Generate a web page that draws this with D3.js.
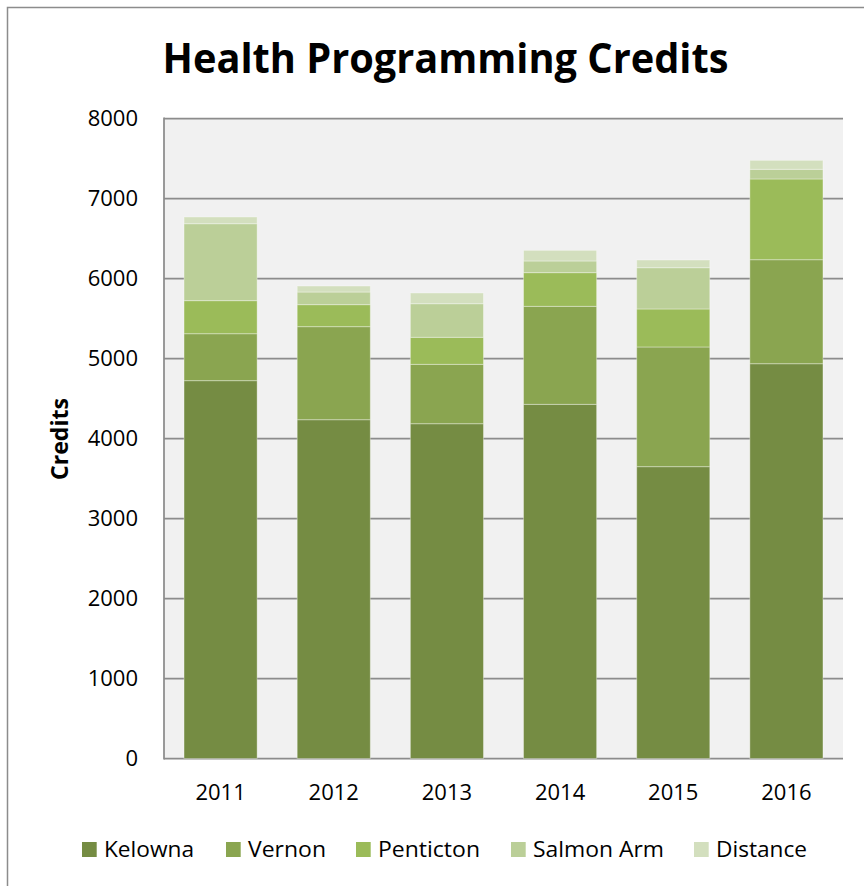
<!DOCTYPE html>
<html>
<head>
<meta charset="utf-8">
<script src="https://cdn.jsdelivr.net/npm/d3@7"></script>
<style>
  html, body { margin: 0; padding: 0; background: #fff; }
  svg { display: block; }
  text { font-family: "Open Sans", "DejaVu Sans", sans-serif; fill: #000; }
</style>
</head>
<body>
<svg id="chart" width="864" height="886"></svg>
<script>
// Health programming credits by campus, 2011–2016
const years = ["2011", "2012", "2013", "2014", "2015", "2016"];
const seriesNames = ["Kelowna", "Vernon", "Penticton", "Salmon Arm", "Distance"];
const kelowna   = [4723, 4235, 4185, 4427, 3648, 4935];
const vernon    = [587, 1163, 742, 1225, 1496, 1300];
const penticton = [413, 275, 338, 421, 475, 1009];
const salmonArm = [962, 158, 420, 146, 516, 121];
const distance  = [84, 75, 134, 133, 96, 112];
const yTicks = [0, 1000, 2000, 3000, 4000, 5000, 6000, 7000, 8000];
const colors = ["#758c43", "#8aa550", "#9bbb59", "#bbcf98", "#d3dfbe"];

const seriesValues = [kelowna, vernon, penticton, salmonArm, distance];
const rows = years.map((yr, i) => {
  const r = { year: yr };
  seriesNames.forEach((s, k) => { r[s] = seriesValues[k][i]; });
  return r;
});

const svg = d3.select("#chart");

// outer chart frame
svg.append("rect")
  .attr("x", 7.5).attr("y", 7.5)
  .attr("width", 900).attr("height", 900)
  .attr("fill", "#fff")
  .attr("stroke", "#8c8c8c").attr("stroke-width", 1.5);

const plot = { left: 164, right: 843, top: 118.5, bottom: 758.5 };

const x = d3.scaleBand()
  .domain(years)
  .range([plot.left, plot.right])
  .paddingInner(0.354)
  .paddingOuter(0.177);

const y = d3.scaleLinear()
  .domain([0, 8000])
  .range([plot.bottom, plot.top]);

// plot background
svg.append("rect")
  .attr("x", plot.left).attr("y", plot.top)
  .attr("width", plot.right - plot.left)
  .attr("height", plot.bottom - plot.top)
  .attr("fill", "#f1f1f1");

// horizontal gridlines
svg.append("g")
  .selectAll("line")
  .data(yTicks)
  .join("line")
  .attr("x1", plot.left).attr("x2", plot.right)
  .attr("y1", d => y(d)).attr("y2", d => y(d))
  .attr("stroke", "#8c8c8c").attr("stroke-width", 1.75);

// left axis line
svg.append("line")
  .attr("x1", plot.left).attr("x2", plot.left)
  .attr("y1", plot.top - 0.9).attr("y2", plot.bottom + 0.9)
  .attr("stroke", "#8c8c8c").attr("stroke-width", 1.75);

// stacked bars
const stack = d3.stack().keys(seriesNames);
const layers = stack(rows);

svg.append("g")
  .selectAll("g")
  .data(layers)
  .join("g")
  .attr("fill", (d, i) => colors[i])
  .selectAll("rect")
  .data(d => d)
  .join("rect")
  .attr("x", d => x(d.data.year))
  .attr("width", x.bandwidth())
  .attr("y", d => y(d[1]))
  .attr("height", d => y(d[0]) - y(d[1]))
  .attr("stroke", "rgba(255,255,255,0.35)")
  .attr("stroke-width", 1);

// y tick labels
const yAxis = d3.axisLeft(y).tickValues(yTicks).tickFormat(d3.format("d")).tickSize(0).tickPadding(0);
const yg = svg.append("g")
  .attr("transform", `translate(${plot.left - 26},0)`)
  .call(yAxis);
yg.select(".domain").remove();
yg.selectAll("text")
  .attr("font-family", "'Open Sans', sans-serif")
  .attr("font-size", 22)
  .attr("fill", "#000")
  .attr("dy", "0.34em");

// x tick labels
const xAxis = d3.axisBottom(x).tickSize(0).tickPadding(0);
const xg = svg.append("g")
  .attr("transform", `translate(0,${plot.bottom + 26})`)
  .call(xAxis);
xg.select(".domain").remove();
xg.selectAll("text")
  .attr("font-family", "'Open Sans', sans-serif")
  .attr("font-size", 22)
  .attr("fill", "#000")
  .attr("dy", "0.71em");

// title
svg.append("text")
  .attr("x", 445.5).attr("y", 73)
  .attr("text-anchor", "middle")
  .attr("font-size", 42)
  .attr("font-weight", "bold")
  .attr("textLength", 566)
  .attr("lengthAdjust", "spacingAndGlyphs")
  .text("Health Programming Credits");

// y axis title
svg.append("text")
  .attr("transform", "translate(68,439) rotate(-90)")
  .attr("text-anchor", "middle")
  .attr("font-size", 24)
  .attr("font-weight", "bold")
  .attr("textLength", 82)
  .attr("lengthAdjust", "spacingAndGlyphs")
  .text("Credits");

// legend
const legendX = [82, 226, 356, 511, 694];
const legendW = [90, 78, 102, 131, 91];
const lg = svg.append("g")
  .selectAll("g")
  .data(seriesNames)
  .join("g")
  .attr("transform", (d, i) => `translate(${legendX[i]},842)`);
lg.append("rect")
  .attr("width", 14.7).attr("height", 15)
  .attr("fill", (d, i) => colors[i]);
lg.append("text")
  .attr("x", 22).attr("y", 15)
  .attr("font-size", 22)
  .attr("textLength", (d, i) => legendW[i])
  .attr("lengthAdjust", "spacingAndGlyphs")
  .text(d => d);
</script>
</body>
</html>
